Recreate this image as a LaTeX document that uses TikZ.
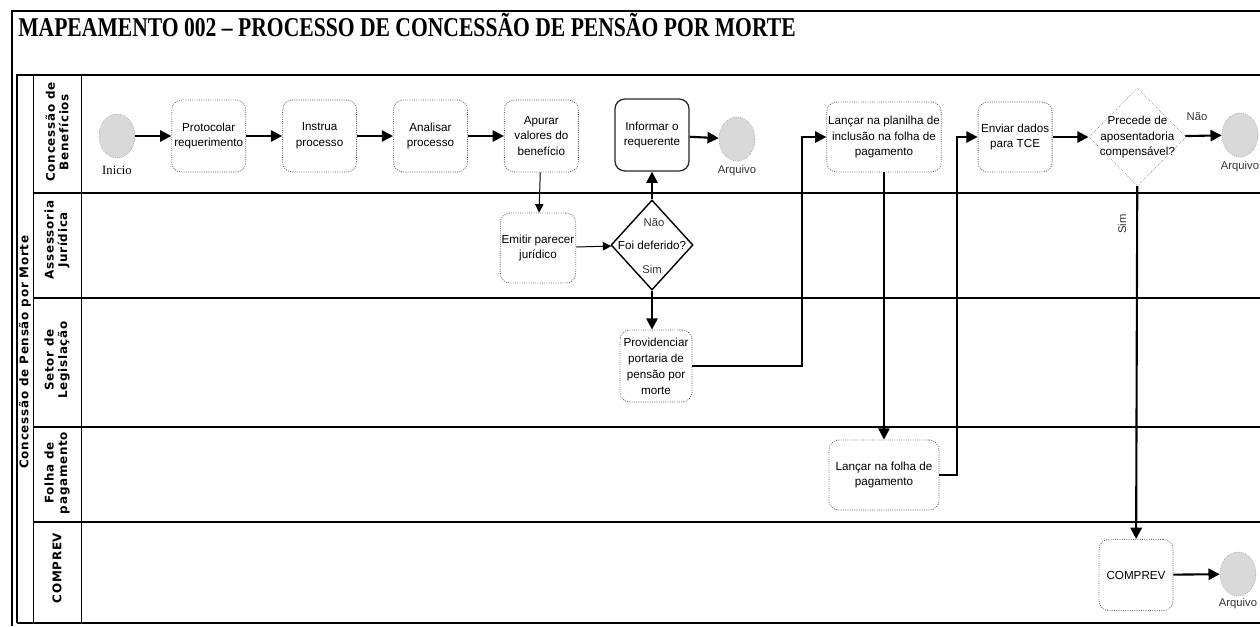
\documentclass[tikz,border=0pt]{standalone}
\usepackage{graphicx}
\usepackage{fontspec}
\setmainfont{Liberation Sans}
\newfontfamily\titlefont{Liberation Serif}
\newfontfamily\lanefont[LetterSpace=6]{DejaVu Sans}
\usetikzlibrary{positioning,shapes.geometric,arrows.meta}

\begin{document}
\begin{tikzpicture}[x=0.025cm, y=-0.025cm, node distance=1cm and 0.9cm,
   >={Triangle[length=8pt,width=8pt]},
   task/.style={draw=black!65, densely dotted, line width=0.6pt, rounded corners=7pt, minimum width=1.85cm, minimum height=1.8cm, align=center, inner sep=1pt, font=\fontsize{8.3}{11.3}\selectfont},
   evt/.style={ellipse, draw=black!45, densely dotted, fill=black!15, minimum width=0.9cm, minimum height=1.1cm, inner sep=0pt},
   gate/.style={diamond, draw, inner sep=0pt, font=\fontsize{8.3}{11.3}\selectfont, align=center},
   lbl/.style={font=\fontsize{8}{9}\selectfont, text=black!80, inner sep=1pt},
   lane/.style={rotate=90, align=center, inner sep=0pt, font=\lanefont\bfseries\fontsize{8.5}{9.6}\selectfont},
   flow/.style={->, line width=1.5pt},
   lite/.style={->, line width=0.7pt, >={Triangle[length=6pt,width=6pt]}},
   laneline/.style={line width=1.3pt}]
   \useasboundingbox (0,0) rectangle (1260,626);

   % frame and title
   \draw[line width=2pt] (12,626) -- (12,11) -- (1262,11);
   \node[anchor=base west, inner sep=0pt] (title) at (18,36) {\resizebox{19.43cm}{\height}{\titlefont\bfseries\fontsize{19.3}{22}\selectfont MAPEAMENTO 002 – PROCESSO DE CONCESSÃO DE PENSÃO POR MORTE}};

   % pool and lanes
   \draw[laneline] (17,623) -- (17,75) -- (1262,75);
   \draw[laneline] (33,193) -- (1262,193);
   \draw[laneline] (33,298) -- (1262,298);
   \draw[laneline] (33,427) -- (1262,427);
   \draw[laneline] (33,522) -- (1262,522);
   \draw[laneline] (17,623) -- (1262,623);
   \draw[line width=0.6pt] (33,75) -- (33,623);
   \draw[line width=0.6pt] (81,75) -- (81,623);

   \node[lane] (pool) at (25,352) {Concessão de Pensão por Morte};
   \node[lane] (l1) at (57,132) {Concessão de\\Benefícios};
   \node[lane] (l2) at (57,240) {Assessoria\\Jurídica};
   \node[lane] (l3) at (57,360) {Setor de\\Legislação};
   \node[lane] (l4) at (57,473) {Folha de\\pagamento};
   \node[lane] (l5) at (57,568) {COMPREV};

   % Concessao de Beneficios
   \node[evt] (ini) at (117,136) {};
   \node[font=\titlefont\fontsize{9}{10}\selectfont] (ini-l) [below=0.08cm of ini] {Inicio};
   \node[task] (prot) [right=of ini] {Protocolar\\requerimento};
   \node[task] (instr) [right=of prot] {Instrua\\processo};
   \node[task] (anal) [right=of instr] {Analisar\\processo};
   \node[task] (apur) [right=of anal] {Apurar\\valores do\\benefício};
   \node[task, solid, draw=black!85, line width=0.9pt] (inf) at (652,135) {Informar o\\requerente};
   \node[evt] (arq1) at (737,139) {};
   \node[lbl] (arq1-l) [below=0.05cm of arq1] {Arquivo};
   \node[task, minimum width=2.8cm, minimum height=1.75cm] (lanc) at (884,137) {Lançar na planilha de\\inclusão na folha de\\pagamento};
   \node[task, minimum height=1.75cm] (env) [right=of lanc] {Enviar dados\\para TCE};
   \node[gate, densely dotted, draw=black!60, minimum width=2.43cm, minimum height=2.45cm, label={[gate, draw=none]center:{Precede de\\aposentadoria\\compensável?}}] (prec) [right=of env] {};
   \node[evt] (arq2) at (1240,135) {};
   \node[lbl] (arq2-l) [below=0.05cm of arq2] {Arquivo};

   % Assessoria Juridica
   \node[task, minimum width=1.8cm, minimum height=1.75cm] (emit) at (538,248) {Emitir parecer\\jurídico};
   \node[gate, line width=1pt, minimum width=2.05cm, minimum height=2.25cm, label={[gate, draw=none]center:{Foi deferido?}}] (dec) at (652,245) {};
   \node[lbl] (nao1) at (654,223) {Não};
   \node[lbl] (sim1) at (652,269) {Sim};

   % Setor de Legislacao
   \node[task, minimum width=1.8cm] (prov) at (656,366) {Providenciar\\portaria de\\pensão por\\morte};

   % Folha de Pagamento
   \node[task, minimum width=2.75cm, minimum height=1.75cm] (lfol) at (884,475) {Lançar na folha de\\pagamento};

   % COMPREV
   \node[task, minimum height=1.78cm] (comp) at (1136,575) {COMPREV};
   \node[evt] (arq3) at (1238,574) {};
   \node[lbl] (arq3-l) [below=0.02cm of arq3] {Arquivo};

   \coordinate (k1) at (802,137);
   \coordinate (k2) at (957,137);

   \draw[flow] (ini) -- (prot);
   \draw[flow] (prot) -- (instr);
   \draw[flow] (instr) -- (anal);
   \draw[flow] (anal) -- (apur);
   \draw[lite] (apur) -- (emit);
   \draw[lite] (emit) -- (dec);
   \draw[flow] (dec.north) -- (dec.north |- inf.south);
   \draw[flow] (inf) -- (arq1);
   \draw[flow] (dec.south) -- (dec.south |- prov.north);
   \draw[flow] (prov) -| (k1) -- (lanc);
   \draw[flow] (lanc) -- (lfol);
   \draw[flow] (lfol) -| (k2) -- (env);
   \draw[flow] (env) -- (prec);
   \draw[flow] (prec) -- (arq2);
   \draw[flow] (prec) -- (comp);
   \draw[flow] (comp) -- (arq3);

   \node[lbl] (nao2) at (1197,117) {Não};
   \node[lbl, rotate=90] (sim2) at (1122,224) {Sim};
\end{tikzpicture}
\end{document}
